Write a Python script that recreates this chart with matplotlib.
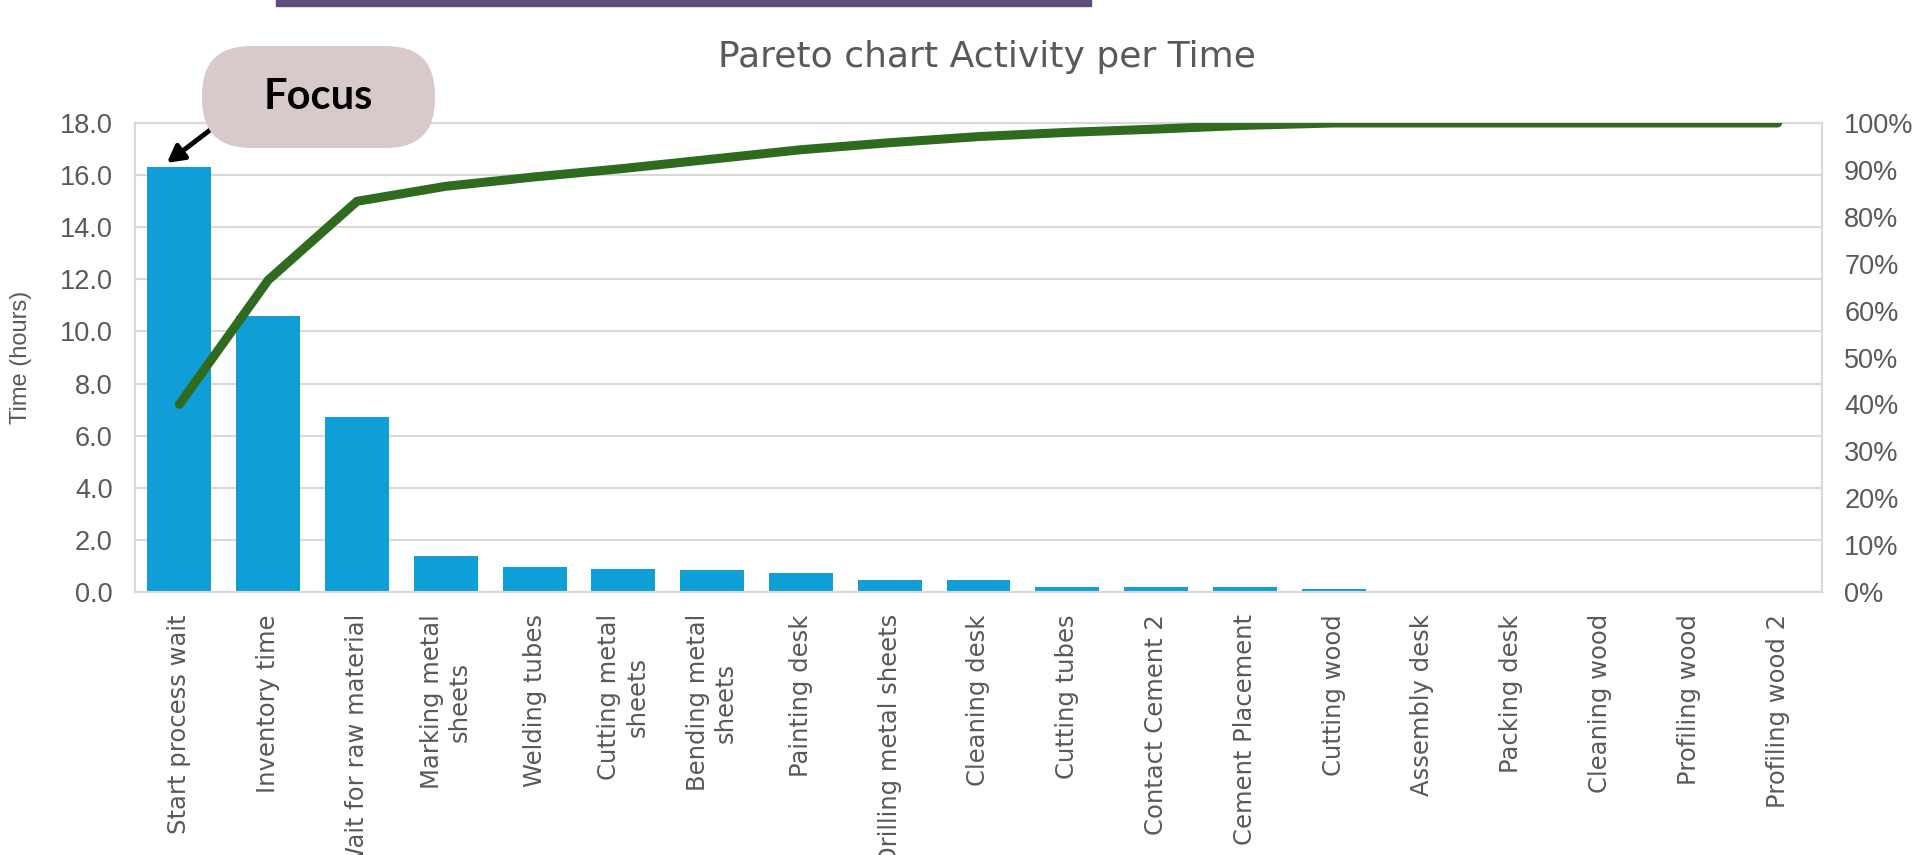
import numpy as np
import matplotlib
matplotlib.use("Agg")
import matplotlib.pyplot as plt
from matplotlib.patches import FancyBboxPatch, Rectangle
from matplotlib.transforms import IdentityTransform
from matplotlib.ticker import FuncFormatter, MultipleLocator

# data
activities = ["Start process wait", "Inventory time", "Wait for raw material",
              "Marking metal\nsheets", "Welding tubes", "Cutting metal\nsheets",
              "Bending metal\nsheets", "Painting desk", "Drilling metal sheets",
              "Cleaning desk", "Cutting tubes", "Contact Cement 2",
              "Cement Placement", "Cutting wood", "Assembly desk", "Packing desk",
              "Cleaning wood", "Profiling wood", "Profiling wood 2"]
hours = [16.3, 10.6, 6.7, 1.38, 0.96, 0.88, 0.83, 0.72, 0.45, 0.45,
         0.19, 0.19, 0.19, 0.13, 0, 0, 0, 0, 0]
cum_pct = [40.0, 66.5, 83.3, 86.5, 88.5, 90.3, 92.3, 94.3, 95.8, 97.1,
           98.0, 98.7, 99.5, 100, 100, 100, 100, 100, 100]

W, H = 1915, 855
fig = plt.figure(figsize=(W/100, H/100), dpi=100)
ax = fig.add_axes([135/W, 1-592/H, (1822-135)/W, (592-123)/H])
ax2 = ax.twinx()

grey = "#595959"
gridc = "#d9d9d9"
x = np.arange(len(activities))

ax.bar(x, hours, width=0.72, color="#0F9ED5", zorder=2)
ax.set_xlim(-0.5, len(activities)-0.5)
ax.set_ylim(0, 18)
ax.yaxis.set_major_locator(MultipleLocator(2))
ax.yaxis.set_major_formatter(FuncFormatter(lambda v, p: f"{v:.1f}"))
ax.grid(axis="y", color=gridc, lw=1.5, zorder=0)
ax.set_axisbelow(True)
ax.set_xticks(x)
# long labels run off the bottom edge, as in the original
ax.set_xticklabels(activities, rotation=90, ha="center", va="top",
                   multialignment="center", fontsize=17.5, color=grey,
                   family="DejaVu Sans")
ax.tick_params(axis="x", length=0, pad=16)
ax.tick_params(axis="y", length=0, pad=16, labelsize=19.5, labelcolor=grey)
for lab in ax.get_yticklabels():
    lab.set_family("Liberation Sans")
ax.set_ylabel("Time (hours)", fontsize=17, color=grey, family="Liberation Sans",
              labelpad=20)

ax2.plot(x, np.array(cum_pct)/100, color="#2F6B1E", lw=6.5, solid_capstyle="round",
         zorder=3)
ax2.set_ylim(0, 1)
ax2.yaxis.set_major_locator(MultipleLocator(0.1))
ax2.yaxis.set_major_formatter(FuncFormatter(lambda v, p: f"{v*100:.0f}%"))
ax2.tick_params(axis="y", length=0, pad=16, labelsize=19.5, labelcolor=grey)
for lab in ax2.get_yticklabels():
    lab.set_family("Liberation Sans")

for a in (ax, ax2):
    for s in a.spines.values():
        s.set_color(gridc)
        s.set_linewidth(1.5)

fig.text(987/W, 1-57/H, "Pareto chart Activity per Time", ha="center", va="center",
         fontsize=26, color=grey, family="DejaVu Sans")

# purple strip at the top
fig.patches.append(Rectangle((276/W, 1-6/H), (1091-276)/W, 6/H,
                             transform=fig.transFigure, color="#614B79", zorder=5))

# focus callout (pixel coordinates, origin bottom-left)
fig.patches.append(FancyBboxPatch((202, H-148), 233, 102,
                                  boxstyle="round,pad=0,rounding_size=49",
                                  transform=IdentityTransform(),
                                  facecolor="#D8CACA", edgecolor="none", zorder=5))
fig.text(318/W, 1-97/H, "Focus", ha="center", va="center", fontsize=30,
         fontweight="bold", family="Lato", color="black", zorder=6)
ax2.annotate("", xy=(-0.14, 0.915), xytext=(0.38, 0.99),
             xycoords="data", textcoords="data",
             arrowprops=dict(arrowstyle="-|>,head_length=1.0,head_width=0.55",
                             color="black", lw=3.5, shrinkA=0, shrinkB=0), zorder=6,
             annotation_clip=False)

fig.savefig("out.png", dpi=100)
